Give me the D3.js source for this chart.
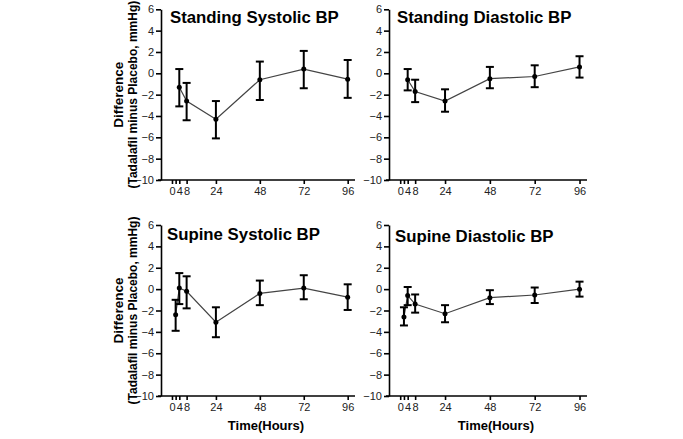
<!DOCTYPE html>
<html>
<head>
<meta charset="utf-8">
<script src="https://cdn.jsdelivr.net/npm/d3@7"></script>
<style>
  body { margin: 0; background: #fff; }
  svg { display: block; font-family: "Liberation Sans", Arial, sans-serif; }
  .axis path, .axis line { stroke: #000; stroke-width: 1.6; }
  .axis text { font-size: 11px; fill: #222; }
  .title { font-size: 16.8px; font-weight: bold; fill: #000; }
  .ylab { font-weight: bold; fill: #000; }
  .xlab { font-size: 13px; font-weight: bold; fill: #000; }
</style>
</head>
<body>
<div id="chart-area"></div>
<script>
// Data
let hoursStanding = [4, 8, 24, 48, 72, 96];
let hoursSupine = [2, 4, 8, 24, 48, 72, 96];

let standSysMean = [-1.3, -2.6, -4.3, -0.6, 0.4, -0.55];
let standSysHi = [0.4, -0.9, -2.6, 1.1, 2.1, 1.25];
let standSysLo = [-3.1, -4.4, -6.1, -2.5, -1.4, -2.3];

let standDiaMean = [-0.6, -1.7, -2.6, -0.5, -0.3, 0.6];
let standDiaHi = [0.4, -0.6, -1.5, 0.6, 0.75, 1.6];
let standDiaLo = [-1.6, -2.7, -3.6, -1.4, -1.3, -0.4];

let supSysMean = [-2.4, 0.1, -0.2, -3.1, -0.4, 0.1, -0.75];
let supSysHi = [-1.0, 1.5, 1.2, -1.7, 0.8, 1.3, 0.45];
let supSysLo = [-3.9, -1.4, -1.8, -4.5, -1.5, -0.95, -1.95];

let supDiaMean = [-2.6, -0.6, -1.4, -2.3, -0.8, -0.55, 0.0];
let supDiaHi = [-1.7, 0.2, -0.5, -1.5, -0.1, 0.15, 0.7];
let supDiaLo = [-3.4, -1.5, -2.2, -3.1, -1.4, -1.3, -0.7];

let yTicks = [-10, -8, -6, -4, -2, 0, 2, 4, 6];
let xTicks = [0, 2, 4, 8, 24, 48, 72, 96];
let xTickLabels = [0, 4, 8, 24, 48, 72, 96];

let panels = [
	{title: "Standing Systolic BP", hours: hoursStanding, mean: standSysMean, hi: standSysHi, lo: standSysLo,
		x0: 161, x1: 355, y0: 9.3, y1: 180, tx: 170, ty: 23, ylab: true, xlab: false},
	{title: "Standing Diastolic BP", hours: hoursStanding, mean: standDiaMean, hi: standDiaHi, lo: standDiaLo,
		x0: 389, x1: 587, y0: 9.3, y1: 180, tx: 397, ty: 23, ylab: false, xlab: false},
	{title: "Supine Systolic BP", hours: hoursSupine, mean: supSysMean, hi: supSysHi, lo: supSysLo,
		x0: 161, x1: 355, y0: 225, y1: 396, tx: 167, ty: 240, ylab: true, xlab: true},
	{title: "Supine Diastolic BP", hours: hoursSupine, mean: supDiaMean, hi: supDiaHi, lo: supDiaLo,
		x0: 389, x1: 587, y0: 225, y1: 396, tx: 395, ty: 242, ylab: false, xlab: true}
];

let svg = d3.select("#chart-area")
	.append("svg")
	.attr("width", 683)
	.attr("height", 439);

panels.forEach(p => {
	let x = d3.scaleLinear().domain([-6, 100]).range([p.x0, p.x1]);
	let y = d3.scaleLinear().domain([-10, 6]).range([p.y1, p.y0]);

	// Axes
	svg.append("g")
		.attr("class", "axis")
		.attr("transform", "translate(" + p.x0 + ",0)")
		.call(d3.axisLeft(y).tickValues(yTicks).tickSize(5).tickSizeOuter(0).tickPadding(2));

	let xAxis = svg.append("g")
		.attr("class", "axis")
		.attr("transform", "translate(0," + p.y1 + ")")
		.call(d3.axisBottom(x).tickValues(xTicks).tickSize(4).tickSizeOuter(0).tickPadding(3)
			.tickFormat(d => xTickLabels.includes(d) ? d : ""));
	xAxis.select(".domain").attr("d", "M" + (p.x0 - 3) + ",0H" + p.x1);

	// Line through means
	let pts = p.hours.map((h, i) => ({h: h, m: p.mean[i], hi: p.hi[i], lo: p.lo[i]}));
	let line = d3.line().x(d => x(d.h)).y(d => y(d.m));
	svg.append("path")
		.datum(pts)
		.attr("d", line)
		.attr("fill", "none")
		.attr("stroke", "#444")
		.attr("stroke-width", 1.2);

	// Error bars
	let bars = svg.append("g");
	bars.selectAll(".eb").data(pts).enter().append("line")
		.attr("x1", d => x(d.h)).attr("x2", d => x(d.h))
		.attr("y1", d => y(d.hi)).attr("y2", d => y(d.lo))
		.attr("stroke", "#000").attr("stroke-width", 2);
	bars.selectAll(".cap-hi").data(pts).enter().append("line")
		.attr("x1", d => x(d.h) - 4).attr("x2", d => x(d.h) + 4)
		.attr("y1", d => y(d.hi)).attr("y2", d => y(d.hi))
		.attr("stroke", "#000").attr("stroke-width", 2);
	bars.selectAll(".cap-lo").data(pts).enter().append("line")
		.attr("x1", d => x(d.h) - 4).attr("x2", d => x(d.h) + 4)
		.attr("y1", d => y(d.lo)).attr("y2", d => y(d.lo))
		.attr("stroke", "#000").attr("stroke-width", 2);
	bars.selectAll(".dot").data(pts).enter().append("circle")
		.attr("cx", d => x(d.h)).attr("cy", d => y(d.m))
		.attr("r", 2.5).attr("fill", "#000");

	// Title
	svg.append("text")
		.attr("class", "title")
		.attr("x", p.tx).attr("y", p.ty)
		.text(p.title);

	// Y label
	if (p.ylab) {
		let mid = (p.y0 + p.y1) / 2;
		let g = svg.append("g").attr("transform", "translate(0," + mid + ") rotate(-90)");
		g.append("text").attr("class", "ylab").attr("text-anchor", "middle")
			.attr("x", 0).attr("y", 123).style("font-size", "13.5px").text("Difference");
		g.append("text").attr("class", "ylab").attr("text-anchor", "middle")
			.attr("x", 0).attr("y", 137).style("font-size", "12px").text("(Tadalafil minus Placebo, mmHg)");
	}

	// X label
	if (p.xlab) {
		svg.append("text")
			.attr("class", "xlab")
			.attr("text-anchor", "middle")
			.attr("x", (p.x0 + p.x1) / 2 + 8).attr("y", 430)
			.text("Time(Hours)");
	}
});
</script>
</body>
</html>
